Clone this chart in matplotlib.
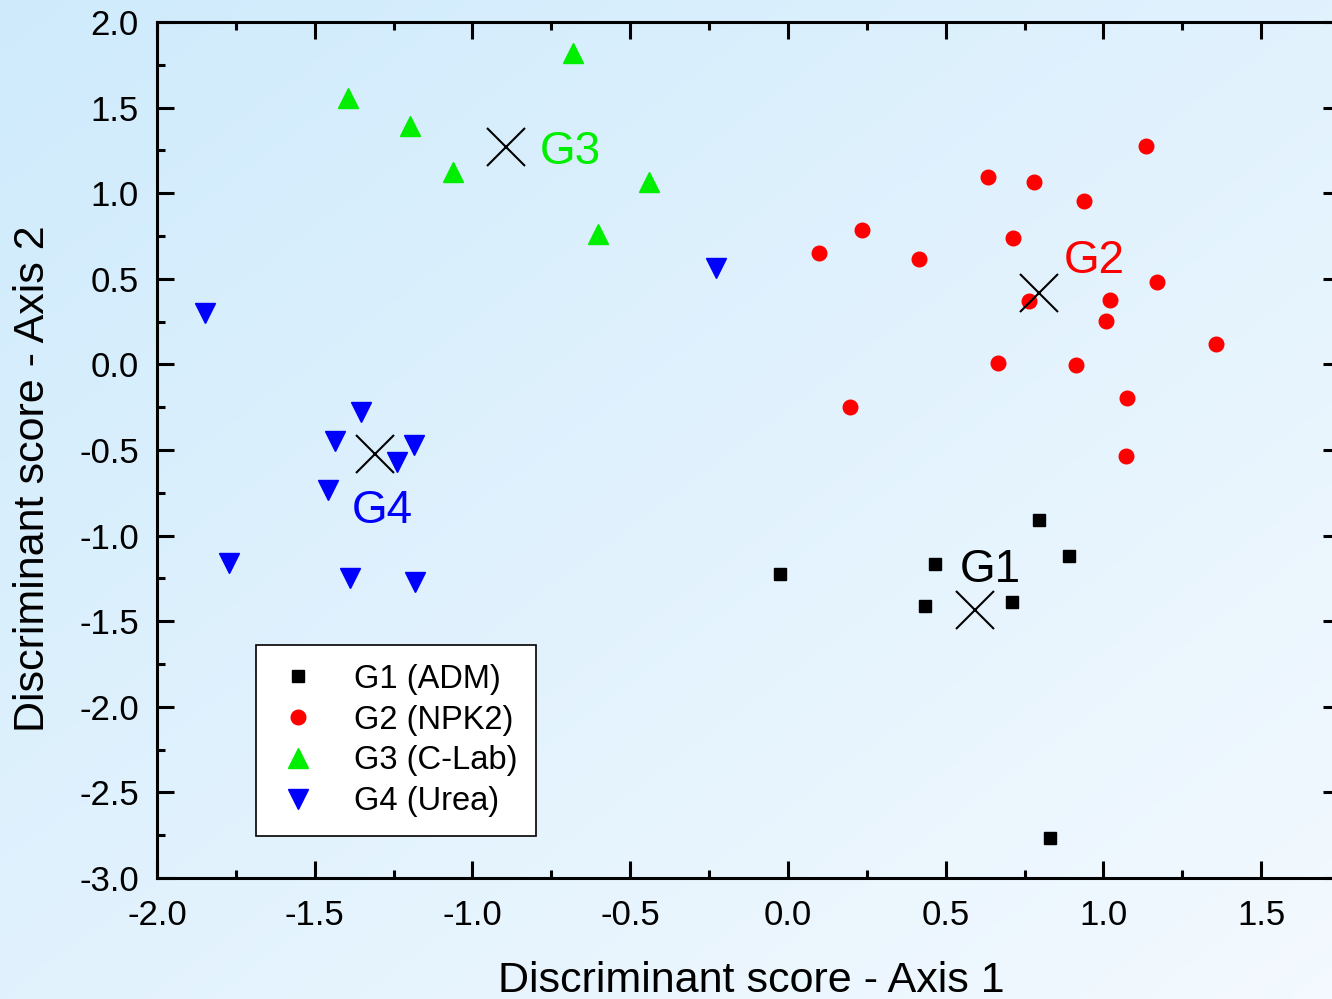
import numpy as np
import matplotlib
matplotlib.use("Agg")
import matplotlib.pyplot as plt
from matplotlib.ticker import MultipleLocator

plt.rcParams['font.family'] = ['Liberation Sans', 'DejaVu Sans']

# group scores (axis 1, axis 2)
g1_x = [0.796, 0.892, 0.467, -0.025, 0.711, 0.435, 0.831]
g1_y = [-0.909, -1.119, -1.166, -1.224, -1.388, -1.411, -2.766]

g2_x = [1.136, 0.635, 0.781, 0.939, 0.235, 0.714, 0.099, 0.416, 1.171, 0.765,
        1.022, 1.009, 1.358, 0.666, 0.914, 1.075, 0.197, 1.072]
g2_y = [1.276, 1.095, 1.065, 0.954, 0.785, 0.738, 0.651, 0.616, 0.481, 0.370,
        0.376, 0.253, 0.119, 0.008, -0.004, -0.196, -0.249, -0.535]

g3_x = [-0.681, -1.394, -1.198, -1.062, -0.440, -0.602]
g3_y = [1.819, 1.556, 1.393, 1.124, 1.065, 0.762]

g4_x = [-1.353, -1.436, -1.185, -1.239, -1.458, -1.772, -1.388, -1.182, -1.848, -0.228]
g4_y = [-0.278, -0.447, -0.471, -0.570, -0.734, -1.160, -1.248, -1.271, 0.300, 0.563]

# group centroids
cent_x = [0.594, 0.796, -0.893, -1.309]
cent_y = [-1.435, 0.417, 1.270, -0.523]

labels = ['G1 (ADM)', 'G2 (NPK2)', 'G3 (C-Lab)', 'G4 (Urea)']
group_names = ['G1', 'G2', 'G3', 'G4']
colors = ['black', '#ff0000', '#00ee00', '#0000ff']

fig = plt.figure(figsize=(13.32, 9.99), dpi=100)

# gradient background
bg = fig.add_axes([0, 0, 1, 1], zorder=-10)
yy, xx = np.mgrid[0:1:200j, 0:1:200j]
t = (xx + yy) / 2.0
c0 = np.array([0.81, 0.92, 0.988])
c1 = np.array([0.955, 0.978, 0.998])
img = c0[None, None, :] * (1 - t[..., None]) + c1[None, None, :] * t[..., None]
bg.imshow(img, extent=[0, 1, 0, 1], aspect='auto', origin='upper')
bg.axis('off')

ax = fig.add_axes([157 / 1332, 1 - 878 / 999, (1340 - 157) / 1332, (878 - 22) / 999])
ax.set_facecolor('none')

ax.plot(g1_x, g1_y, 's', color=colors[0], markersize=8.5, linestyle='none', label=labels[0])
ax.plot(g2_x, g2_y, 'o', color=colors[1], markersize=10.5, linestyle='none', label=labels[1])
ax.plot(g3_x, g3_y, '^', color=colors[2], markersize=15, linestyle='none', label=labels[2])
ax.plot(g4_x, g4_y, 'v', color=colors[3], markersize=15, linestyle='none', label=labels[3])

ax.plot(cent_x, cent_y, 'x', color='black', markersize=27, markeredgewidth=1.5, linestyle='none')

# group labels
label_pos = [(0.546, -1.271), (0.873, 0.534), (-0.786, 1.171), (-1.382, -0.926)]
for name, (lx, ly), c in zip(group_names, label_pos, colors):
    ax.text(lx, ly, name, color=c, fontsize=33, ha='left', va='baseline')

ax.set_xlim(-2.0, 1.75)
ax.set_ylim(-3.0, 2.0)
ax.xaxis.set_major_locator(MultipleLocator(0.5))
ax.xaxis.set_minor_locator(MultipleLocator(0.25))
ax.yaxis.set_major_locator(MultipleLocator(0.5))
ax.yaxis.set_minor_locator(MultipleLocator(0.25))
ax.xaxis.set_major_formatter(matplotlib.ticker.FormatStrFormatter('%.1f'))
ax.yaxis.set_major_formatter(matplotlib.ticker.FormatStrFormatter('%.1f'))

for s in ax.spines.values():
    s.set_linewidth(2.2)
ax.tick_params(which='both', direction='in', top=True, right=True, width=2.2, labelsize=25)
ax.tick_params(which='major', length=12)
ax.tick_params(which='minor', length=6)
ax.tick_params(axis='x', pad=15)
ax.tick_params(axis='y', pad=13)

ax.set_xlabel('Discriminant score - Axis 1', fontsize=31)
ax.set_ylabel('Discriminant score - Axis 2', fontsize=31)
ax.xaxis.set_label_coords(0.502, -0.12)
ax.yaxis.set_label_coords(-0.105, 0.466)
ax.yaxis.label.set_va('center')
ax.xaxis.label.set_va('center')

leg = ax.legend(loc='lower left', bbox_to_anchor=(0.084, 0.049), fontsize=23.5,
                frameon=True, fancybox=False, framealpha=1, edgecolor='black',
                handlelength=1.37, handletextpad=1.03, labelspacing=0.3,
                borderpad=0.58, borderaxespad=0)
leg.get_frame().set_linewidth(1.2)

fig.savefig('out.png', dpi=100)
